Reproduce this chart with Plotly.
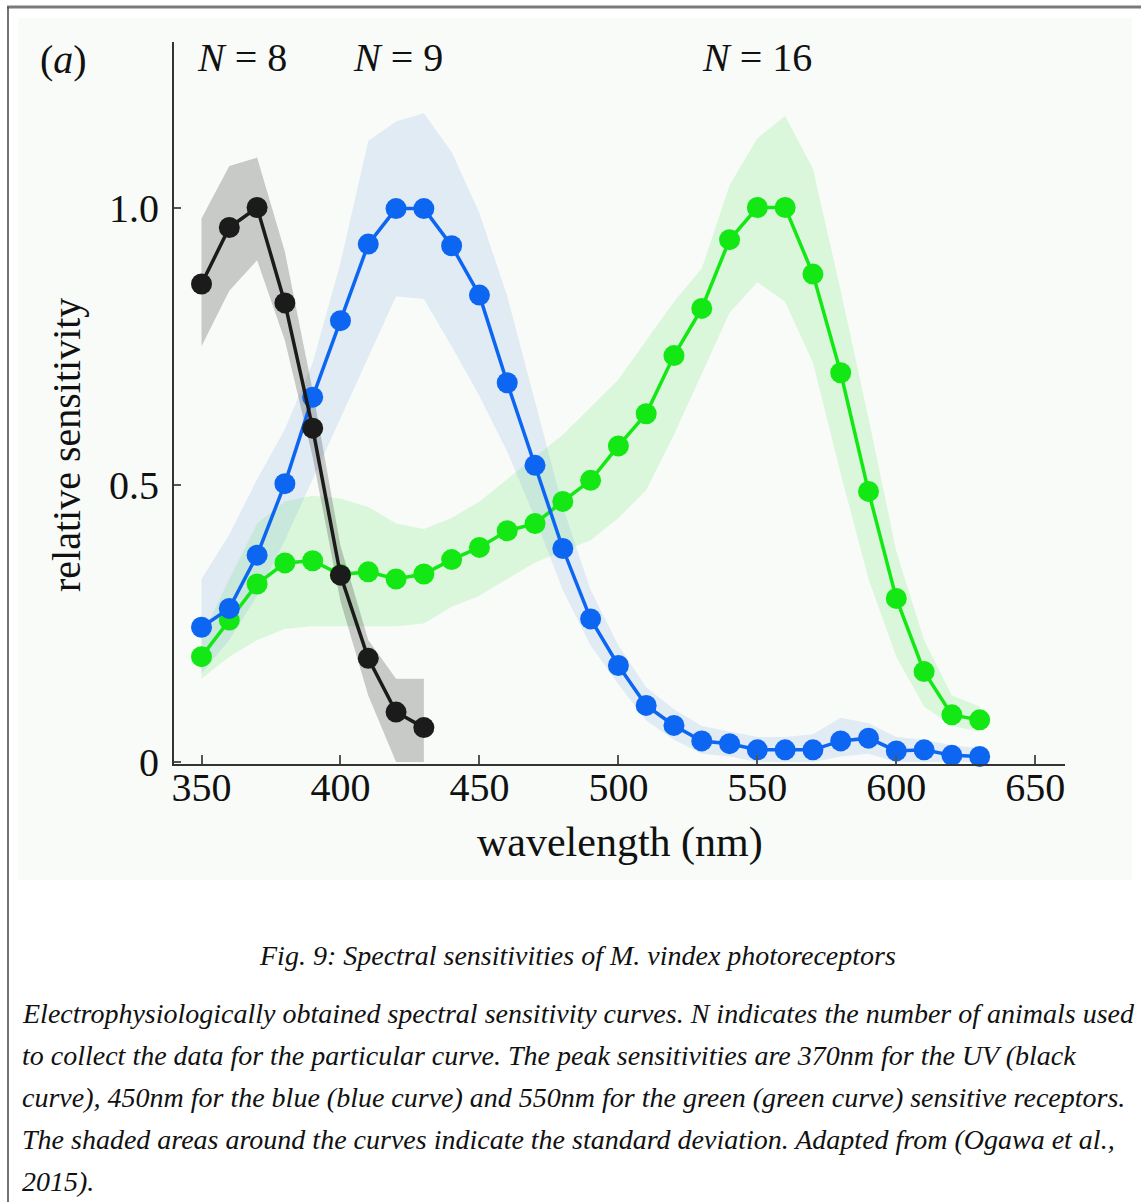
import plotly.graph_objects as go

# ---------------- data ----------------
wl_uv = [350, 360, 370, 380, 390, 400, 410, 420, 430]
uv_mean = [0.862, 0.964, 1.0, 0.828, 0.602, 0.337, 0.187, 0.090, 0.062]
uv_upper = [0.98, 1.075, 1.09, 0.92, 0.67, 0.39, 0.22, 0.15, 0.15]
uv_lower = [0.75, 0.85, 0.905, 0.76, 0.55, 0.29, 0.12, 0.0, 0.0]

wl = [350, 360, 370, 380, 390, 400, 410, 420, 430, 440, 450, 460, 470, 480, 490,
      500, 510, 520, 530, 540, 550, 560, 570, 580, 590, 600, 610, 620, 630]

blue_mean = [0.243, 0.277, 0.373, 0.502, 0.658, 0.796, 0.934, 0.998, 0.998, 0.931,
             0.842, 0.684, 0.535, 0.385, 0.258, 0.174, 0.102, 0.066, 0.038, 0.033,
             0.022, 0.022, 0.022, 0.038, 0.043, 0.020, 0.022, 0.012, 0.010]
blue_upper = [0.33, 0.41, 0.51, 0.60, 0.72, 0.90, 1.12, 1.155, 1.17, 1.10,
              0.99, 0.84, 0.65, 0.46, 0.31, 0.21, 0.135, 0.095, 0.065, 0.055,
              0.045, 0.045, 0.05, 0.08, 0.07, 0.045, 0.04, 0.03, 0.025]
blue_lower = [0.16, 0.22, 0.30, 0.40, 0.51, 0.62, 0.73, 0.84, 0.835, 0.75,
              0.66, 0.56, 0.44, 0.31, 0.21, 0.14, 0.075, 0.04, 0.015, 0.01,
              0.0, 0.0, 0.0, 0.01, 0.015, 0.0, 0.0, 0.0, 0.0]

green_mean = [0.190, 0.256, 0.321, 0.359, 0.363, 0.338, 0.343, 0.330, 0.339, 0.365,
              0.387, 0.417, 0.430, 0.470, 0.508, 0.570, 0.628, 0.733, 0.818, 0.942,
              1.0, 1.0, 0.880, 0.702, 0.488, 0.295, 0.163, 0.085, 0.076]
green_upper = [0.225, 0.33, 0.43, 0.47, 0.48, 0.475, 0.46, 0.43, 0.42, 0.44,
               0.47, 0.51, 0.55, 0.59, 0.64, 0.69, 0.76, 0.83, 0.89, 1.04,
               1.125, 1.165, 1.07, 0.85, 0.62, 0.38, 0.22, 0.12, 0.10]
green_lower = [0.15, 0.19, 0.22, 0.24, 0.245, 0.245, 0.245, 0.245, 0.25, 0.28,
               0.30, 0.33, 0.36, 0.38, 0.40, 0.44, 0.49, 0.59, 0.70, 0.81,
               0.865, 0.83, 0.72, 0.52, 0.33, 0.19, 0.10, 0.065, 0.055]

x_ticks = [350, 400, 450, 500, 550, 600, 650]
x_ticktext = ["350", "400", "450", "500", "550", "600", "650"]
y_ticks = [0, 0.5, 1.0]
y_ticktext = ["0", "0.5", "1.0"]

n_labels = ["N = 8", "N = 9", "N = 16"]

caption_title = "Fig. 9: Spectral sensitivities of M. vindex photoreceptors"
caption_lines = [
    "Electrophysiologically obtained spectral sensitivity curves. N indicates the number of animals used",
    "to collect the data for the particular curve. The peak sensitivities are 370nm for the UV (black",
    "curve), 450nm for the blue (blue curve) and 550nm for the green (green curve) sensitive receptors.",
    "The shaded areas around the curves indicate the standard deviation. Adapted from (Ogawa et al.,",
    "2015).",
]

# ---------------- styling ----------------
W, H = 1141, 1202
SERIF = "Liberation Serif, Times New Roman, serif"
BLACK = "#1b1b1b"
BLUE = "#0c66f2"
GREEN = "#14e814"


def px(x):
    return x / W


def py(y):
    return 1 - y / H


fig = go.Figure()


def band(xs, lo, hi, color):
    fig.add_trace(go.Scatter(
        x=list(xs) + list(xs)[::-1],
        y=list(hi) + list(lo)[::-1],
        fill="toself", fillcolor=color, mode="lines",
        line=dict(width=0), hoverinfo="skip", showlegend=False))


band(wl, green_lower, green_upper, "rgba(40,225,40,0.14)")
band(wl, blue_lower, blue_upper, "rgba(70,130,220,0.13)")
band(wl_uv, uv_lower, uv_upper, "rgba(20,20,20,0.21)")


def curve(xs, ys, color):
    fig.add_trace(go.Scatter(
        x=xs, y=ys, mode="lines+markers",
        line=dict(color=color, width=3.5),
        marker=dict(color=color, size=21, line=dict(width=0)),
        cliponaxis=False, showlegend=False))


curve(wl, green_mean, GREEN)
curve(wl, blue_mean, BLUE)
curve(wl_uv, uv_mean, BLACK)

# axes geometry (pixel-based)
x_left, x_right = 174, 1065
y_top, y_bot = 42, 763.5
fig.update_layout(
    width=W, height=H, autosize=False,
    margin=dict(l=0, r=0, t=0, b=0, pad=0, autoexpand=False),
    paper_bgcolor="white", plot_bgcolor="rgba(0,0,0,0)",
    showlegend=False,
    xaxis=dict(
        domain=[px(x_left), px(x_right)], range=[340.1, 660.7],
        showgrid=False, zeroline=False, automargin=False,
        showline=True, linecolor="#333", linewidth=2,
        ticks="inside", ticklen=9, tickwidth=2, tickcolor="#555",
        tickvals=x_ticks, ticktext=x_ticktext,
        tickfont=dict(family=SERIF, size=40, color="#111"),
        ticklabelstandoff=-13,
    ),
    yaxis=dict(
        domain=[py(y_bot), py(y_top)], range=[-0.0027, 1.2985],
        showgrid=False, zeroline=False, automargin=False,
        showline=True, linecolor="#333", linewidth=2,
        ticks="inside", ticklen=7, tickwidth=2, tickcolor="#555",
        tickvals=y_ticks, ticktext=y_ticktext,
        tickfont=dict(family=SERIF, size=40, color="#111"),
        ticklabelstandoff=5,
    ),
)

shapes = [
    # figure image background
    dict(type="rect", xref="paper", yref="paper", x0=px(18), x1=px(1132), y0=py(880), y1=py(18),
         fillcolor="#f8fbf8", line=dict(width=0), layer="below"),
    # document frame
    dict(type="line", xref="paper", yref="paper", x0=px(7), x1=1, y0=py(7), y1=py(7),
         line=dict(color="#7a7a7a", width=3)),
    dict(type="line", xref="paper", yref="paper", x0=px(8), x1=px(8), y0=py(7), y1=0,
         line=dict(color="#444", width=1.5)),
]
fig.update_layout(shapes=shapes)

ann = []


def text(t, x, y, size, xanchor="center", angle=0, family=SERIF, color="#111"):
    ann.append(dict(text=t, x=px(x), y=py(y), xref="paper", yref="paper",
                    xanchor=xanchor, yanchor="middle", showarrow=False, textangle=angle,
                    font=dict(family=family, size=size, color=color)))


text("(<i>a</i>)", 63, 60, 40)
for lab, xc in zip(n_labels, [242, 398, 757]):
    text(lab.replace("N", "<i>N</i>"), xc, 58, 40)
text("relative sensitivity", 66, 445, 40, angle=-90)
text("wavelength (nm)", 620, 842, 42)

text("<i>" + caption_title + "</i>", 577, 955, 28)
for i, line in enumerate(caption_lines):
    text("<i>" + line + "</i>", 20, 1013 + 42 * i, 28, xanchor="left")

fig.update_layout(annotations=ann)

fig.write_html("out.html")
